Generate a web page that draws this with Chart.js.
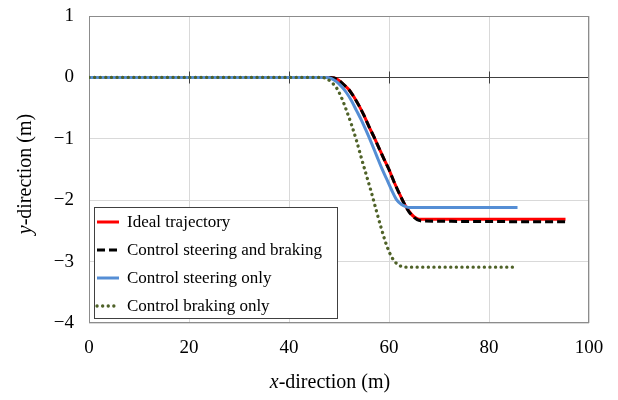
<!DOCTYPE html>
<html>
<head>
<meta charset="utf-8">
<script src="https://cdn.jsdelivr.net/npm/chart.js@4"></script>
<style>
  html, body { margin: 0; padding: 0; background: #fff; }
  #wrap { width: 618px; height: 400px; }
</style>
</head>
<body>
<div id="wrap"><canvas id="trajChart" width="618" height="400"></canvas></div>
<script>
// series (x in m, y in m)
const idealX = [0, 48, 49, 50, 51, 52, 53, 54, 55, 56, 57, 58, 59, 60, 61, 62, 63, 64, 65, 66, 67, 95.3];
const idealY = [0, 0, -0.01, -0.05, -0.12, -0.2, -0.32, -0.46, -0.62, -0.8, -0.97, -1.15, -1.33, -1.5, -1.7, -1.88, -2.05, -2.18, -2.27, -2.31, -2.31, -2.31];

const bothX = [0, 48, 49, 50, 51, 52, 53, 54, 55, 56, 57, 58, 59, 60, 61, 62, 63, 64, 65, 66, 67, 95.3];
const bothY = [0, 0, -0.01, -0.05, -0.12, -0.2, -0.32, -0.46, -0.62, -0.8, -0.97, -1.15, -1.33, -1.5, -1.7, -1.88, -2.05, -2.19, -2.28, -2.33, -2.34, -2.35];

const steerX = [0, 47.5, 48.5, 49.5, 50.5, 51.5, 52.5, 53.5, 54.5, 55.5, 56.5, 57.5, 58.5, 59.5, 60.5, 61.5, 62.5, 63.5, 64, 85.7];
const steerY = [0, 0, -0.02, -0.07, -0.15, -0.25, -0.38, -0.54, -0.7, -0.88, -1.07, -1.27, -1.47, -1.65, -1.83, -1.99, -2.07, -2.11, -2.12, -2.12];

const brakeX = [0, 46.5, 47.5, 48.5, 49.5, 50.5, 51.5, 52.5, 53.5, 54.5, 55.5, 56.5, 57.5, 58.5, 59.5, 60.5, 61.5, 62.5, 63.5, 85.5];
const brakeY = [0, 0, -0.02, -0.08, -0.17, -0.33, -0.54, -0.77, -1.03, -1.32, -1.6, -1.88, -2.18, -2.47, -2.73, -2.92, -3.03, -3.08, -3.09, -3.09];

const seriesNames = ['Ideal trajectory', 'Control steering and braking', 'Control steering only', 'Control braking only'];
const xTicks = [0, 20, 40, 60, 80, 100];
const yTicks = [1, 0, -1, -2, -3, -4];
const xTitle = ['x', '-direction (m)'];
const yTitle = ['y', '-direction (m)'];

const SERIF = "'Liberation Serif', 'Times New Roman', serif";

function pts(xs, ys) {
  return xs.map((x, i) => ({ x: x, y: ys[i] }));
}

// frame, zero-line tick marks, axis titles, legend inside the plot
const extras = {
  id: 'extras',
  beforeDatasetsDraw(chart) {
    const { ctx, chartArea: a, scales } = chart;
    ctx.save();
    ctx.strokeStyle = '#8c8c8c';
    ctx.lineWidth = 1;
    ctx.strokeRect(a.left + 0.5, a.top + 0.5, a.right - a.left - 1, a.bottom - a.top - 1);
    const y0 = Math.round(scales.y.getPixelForValue(0)) + 0.5;
    ctx.strokeStyle = '#404040';
    ctx.beginPath();
    xTicks.slice(1, -1).forEach(v => {
      const px = Math.round(scales.x.getPixelForValue(v)) + 0.5;
      ctx.moveTo(px, y0 - 6);
      ctx.lineTo(px, y0 + 6);
    });
    ctx.stroke();
    ctx.restore();
  },
  afterDraw(chart) {
    const { ctx, chartArea: a } = chart;
    ctx.save();
    ctx.fillStyle = '#000';
    ctx.textBaseline = 'middle';

    // x title
    ctx.font = 'italic 20px ' + SERIF;
    const w1 = ctx.measureText(xTitle[0]).width;
    ctx.font = '20px ' + SERIF;
    const w2 = ctx.measureText(xTitle[1]).width;
    let sx = 330 - (w1 + w2) / 2;
    ctx.font = 'italic 20px ' + SERIF;
    ctx.fillText(xTitle[0], sx, 383);
    ctx.font = '20px ' + SERIF;
    ctx.fillText(xTitle[1], sx + w1, 383);

    // y title
    ctx.translate(26, 174);
    ctx.rotate(-Math.PI / 2);
    ctx.font = 'italic 20px ' + SERIF;
    const v1 = ctx.measureText(yTitle[0]).width;
    ctx.font = '20px ' + SERIF;
    const v2 = ctx.measureText(yTitle[1]).width;
    sx = -(v1 + v2) / 2;
    ctx.font = 'italic 20px ' + SERIF;
    ctx.fillText(yTitle[0], sx, 0);
    ctx.font = '20px ' + SERIF;
    ctx.fillText(yTitle[1], sx + v1, 0);
    ctx.restore();

    // legend box
    ctx.save();
    const bx = a.left + 5, bw = 243, bh = 111;
    const by = a.bottom - 5 - bh;
    ctx.fillStyle = '#fff';
    ctx.fillRect(bx, by, bw, bh);
    ctx.strokeStyle = '#404040';
    ctx.lineWidth = 1;
    ctx.strokeRect(bx + 0.5, by + 0.5, bw, bh);
    ctx.font = '17px ' + SERIF;
    ctx.textBaseline = 'middle';
    chart.data.datasets.forEach((ds, i) => {
      const ry = by + 15 + i * 28;
      ctx.strokeStyle = ds.borderColor;
      ctx.lineWidth = ds.borderWidth;
      ctx.lineCap = ds.borderCapStyle || 'butt';
      ctx.setLineDash(ds.borderDash || []);
      ctx.beginPath();
      ctx.moveTo(bx + 3, ry);
      ctx.lineTo(bx + 25, ry);
      ctx.stroke();
      ctx.setLineDash([]);
      ctx.fillStyle = '#000';
      ctx.fillText(ds.label, bx + 33, ry + 1);
    });
    ctx.restore();
  }
};

const ctx = document.getElementById('trajChart').getContext('2d');
const trajChart = new Chart(ctx, {
  type: 'scatter',
  data: {
    datasets: [
      {
        label: seriesNames[0],
        data: pts(idealX, idealY),
        showLine: true,
        borderColor: '#ff0000',
        borderWidth: 3,
        pointRadius: 0,
        cubicInterpolationMode: 'monotone',
        order: 4
      },
      {
        label: seriesNames[1],
        data: pts(bothX, bothY),
        showLine: true,
        borderColor: '#000000',
        borderWidth: 3,
        borderDash: [8, 4],
        pointRadius: 0,
        cubicInterpolationMode: 'monotone',
        order: 3
      },
      {
        label: seriesNames[2],
        data: pts(steerX, steerY),
        showLine: true,
        borderColor: '#558ed5',
        borderWidth: 3,
        pointRadius: 0,
        cubicInterpolationMode: 'monotone',
        order: 2
      },
      {
        label: seriesNames[3],
        data: pts(brakeX, brakeY),
        showLine: true,
        borderColor: '#4f6228',
        borderWidth: 3.3,
        borderDash: [0.1, 5.5],
        borderCapStyle: 'round',
        pointRadius: 0,
        cubicInterpolationMode: 'monotone',
        order: 1
      }
    ]
  },
  options: {
    responsive: false,
    animation: false,
    layout: { padding: { top: 16, right: 29, left: 0, bottom: 0 } },
    scales: {
      x: {
        type: 'linear',
        min: 0,
        max: 100,
        afterFit(scale) {
          scale.height = 77;
          scale.paddingLeft = 0;
          scale.paddingRight = 0;
        },
        afterBuildTicks(scale) { scale.ticks = xTicks.map(v => ({ value: v })); },
        ticks: {
          color: '#000',
          padding: 14,
          maxRotation: 0,
          font: { family: SERIF, size: 19 }
        },
        grid: { color: '#d9d9d9', drawTicks: false },
        border: { display: false }
      },
      y: {
        type: 'linear',
        min: -4,
        max: 1,
        afterFit(scale) {
          scale.width = 89;
          scale.paddingTop = 0;
          scale.paddingBottom = 0;
        },
        afterBuildTicks(scale) { scale.ticks = yTicks.map(v => ({ value: v })); },
        ticks: {
          color: '#000',
          padding: 15,
          font: { family: SERIF, size: 19 },
          callback: v => String(v).replace('-', '\u2212')
        },
        grid: {
          drawTicks: false,
          color: c => (c.tick && c.tick.value === 0 ? '#404040' : '#d9d9d9')
        },
        border: { display: false }
      }
    },
    plugins: {
      legend: { display: false },
      tooltip: { enabled: false }
    }
  },
  plugins: [extras]
});
</script>
</body>
</html>
